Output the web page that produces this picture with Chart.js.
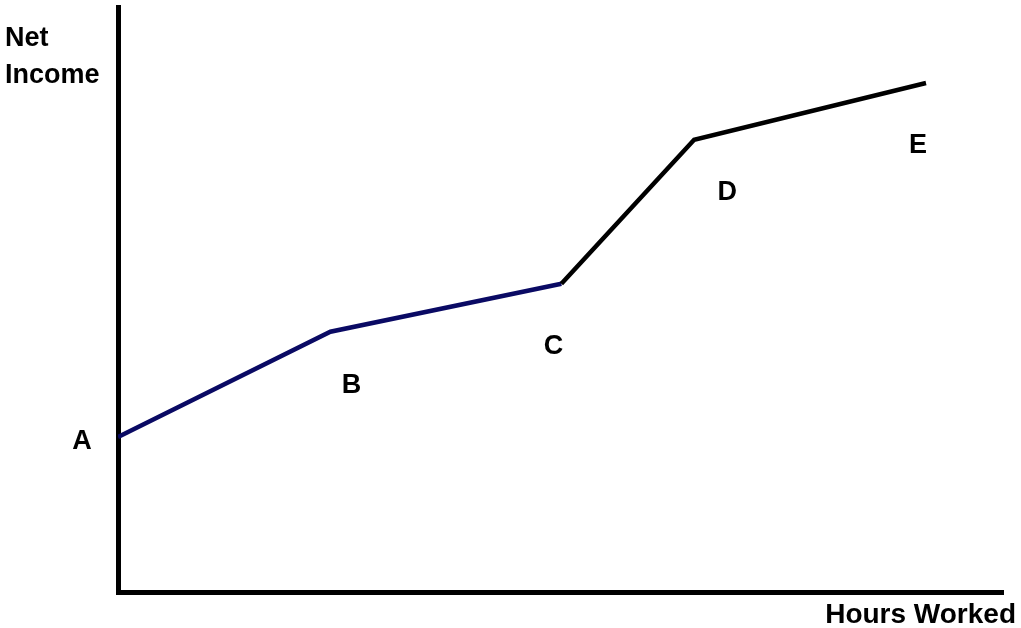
<!DOCTYPE html>
<html>
<head>
<meta charset="utf-8">
<script src="https://cdn.jsdelivr.net/npm/chart.js@4/dist/chart.umd.min.js"></script>
<style>
  html, body { margin: 0; padding: 0; background: #fff; }
  #wrap { width: 1021px; height: 628px; }
</style>
</head>
<body>
<div id="wrap"><canvas id="incomeChart" width="1021" height="628"></canvas></div>
<script>
// kinks of the net income schedule
const pointNames = ['A', 'B', 'C', 'D', 'E'];
const hoursWorked = [0, 24.0, 50.1, 65.1, 91.3];
const netIncome = [26.5, 44.5, 52.7, 77.3, 87.0];

const navy = '#0a0a64';
const font = '"Liberation Sans", Arial, sans-serif';

// letters sit a little off each kink (pixels)
const letterOffsets = [[-36, 5], [21, 54], [-8, 63], [33, 53], [-8, 62]];

const textPlugin = {
    id: 'textPlugin',
    afterDraw(chart) {
        const ctx = chart.ctx;
        const xs = chart.scales.x, ys = chart.scales.y;
        ctx.save();
        ctx.fillStyle = '#000';
        ctx.font = 'bold 27px ' + font;
        ctx.textAlign = 'center';
        ctx.textBaseline = 'middle';
        pointNames.forEach((name, i) => {
            const px = xs.getPixelForValue(hoursWorked[i]) + letterOffsets[i][0];
            const py = ys.getPixelForValue(netIncome[i]) + letterOffsets[i][1];
            ctx.fillText(name, px, py);
        });
        // axis names
        ctx.textAlign = 'left';
        ctx.textBaseline = 'alphabetic';
        ctx.fillText('Net', 5, 46);
        ctx.fillText('Income', 5, 83);
        ctx.font = 'bold 28px ' + font;
        ctx.textAlign = 'right';
        ctx.fillText('Hours Worked', 1016, 623);
        ctx.restore();
    }
};

const ctx = document.getElementById('incomeChart').getContext('2d');
const config = {
    type: 'line',
    data: {
        datasets: [{
            data: hoursWorked.map((h, i) => ({ x: h, y: netIncome[i] })),
            borderColor: '#000',
            borderWidth: 4.5,
            pointRadius: 0,
            tension: 0,
            fill: false,
            segment: {
                borderColor: c => c.p0DataIndex < 2 ? navy : '#000'
            }
        }]
    },
    options: {
        responsive: false,
        animation: false,
        layout: { padding: { left: 110, right: 18, top: 7, bottom: 28 } },
        plugins: {
            legend: { display: false },
            tooltip: { enabled: false }
        },
        scales: {
            x: {
                type: 'linear',
                min: 0,
                max: 100,
                grid: { display: false },
                border: { display: true, color: '#000', width: 5 },
                ticks: { display: false }
            },
            y: {
                type: 'linear',
                min: 0,
                max: 100,
                grid: { display: false },
                border: { display: true, color: '#000', width: 5 },
                ticks: { display: false }
            }
        }
    },
    plugins: [textPlugin]
};

const incomeChart = new Chart(ctx, config);
</script>
</body>
</html>
